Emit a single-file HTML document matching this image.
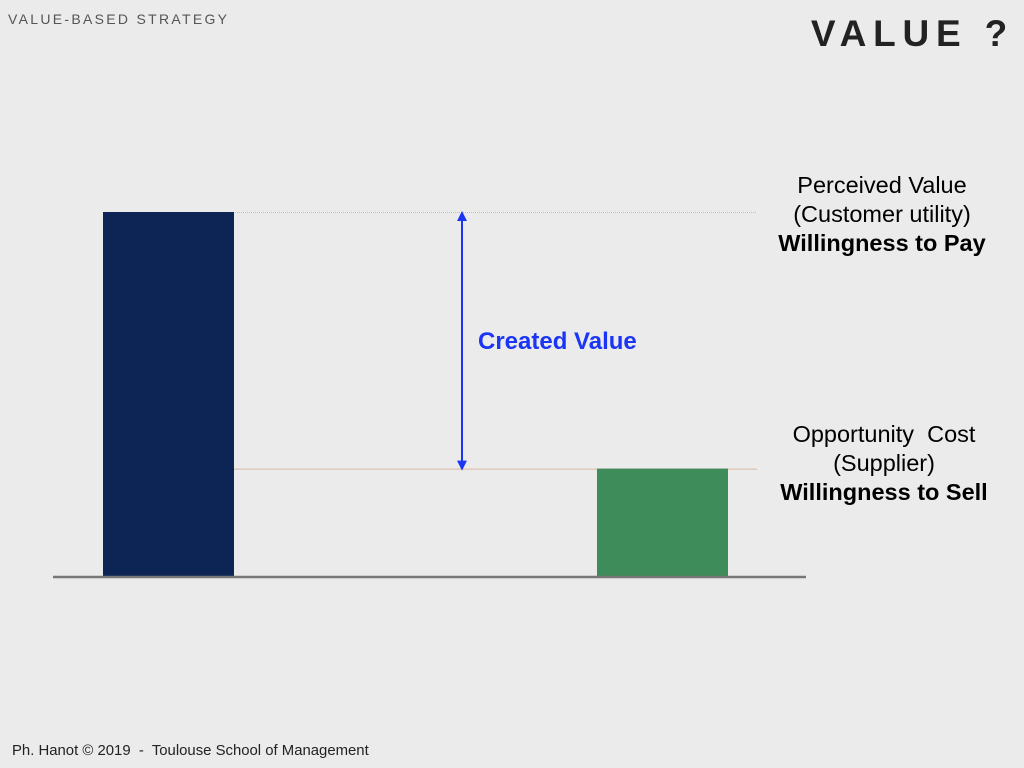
<!DOCTYPE html>
<html><head><meta charset="utf-8"><style>
html,body{margin:0;padding:0;background:#ebebeb;}
body{width:1024px;height:768px;position:relative;overflow:hidden;font-family:"Liberation Sans",sans-serif;}
.t{position:absolute;white-space:nowrap;}
</style></head><body>
<div class="t" style="left:8px;top:11px;font-size:14px;letter-spacing:2.3px;color:#555;">VALUE-BASED STRATEGY</div>
<div class="t" style="right:10px;top:13px;font-size:37px;font-weight:bold;letter-spacing:6.8px;color:#222;">VALUE ?</div>
<svg id="chart" width="1024" height="768" style="position:absolute;left:0;top:0">
<defs>
<marker id="ah" markerWidth="10" markerHeight="10" refX="5" refY="5" orient="auto-start-reverse" markerUnits="userSpaceOnUse"><path d="M0,0 L10,5 L0,10 z" fill="#1a35f5"/></marker>
</defs>
</svg>
<div class="t" style="left:760px;top:171px;width:244px;text-align:center;font-size:23.5px;line-height:29px;color:#000;">Perceived Value<br>(Customer utility)<br><b>Willingness to Pay</b></div>
<div class="t" style="left:762px;top:420px;width:244px;text-align:center;font-size:23.5px;line-height:29px;color:#000;">Opportunity&nbsp; Cost<br>(Supplier)<br><b>Willingness to Sell</b></div>
<div class="t" style="left:478px;top:328px;font-size:24px;font-weight:bold;color:#1a35f5;">Created Value</div>
<div class="t" style="left:12px;top:743px;font-size:14.9px;color:#222;">Ph. Hanot © 2019&nbsp; -&nbsp; Toulouse School of Management</div>
<script>
const categories = ["Willingness to Pay", "Willingness to Sell"];
const values = [10, 2.97];
const colors = ["#0c2554", "#3e8c5a"];
const svg = document.getElementById('chart');
const NS = 'http://www.w3.org/2000/svg';
const y = v => 577 - v * 36.5;
const barX = [103, 597];
function mk(tag, attrs){const e=document.createElementNS(NS,tag);for(const k in attrs)e.setAttribute(k,attrs[k]);svg.appendChild(e);return e;}
values.forEach((v,i)=>{
  const l = mk('line',{x1:233,x2:757,y1:y(v)+0.5,y2:y(v)+0.5,stroke:'#d8b8a0','stroke-width':1,'stroke-dasharray':i===0?'1,1':''});
  
  
});
values.forEach((v,i)=>{
  const r = mk('rect',{x:barX[i],y:y(v),width:131,height:y(0)-y(v),fill:colors[i]});
  
  
});
const base = mk('line',{x1:53,x2:806,y1:577,y2:577,stroke:'#777','stroke-width':2.5});


const arr = mk('line',{x1:462,x2:462,y1:y(values[0])+4,y2:y(values[1])-3,stroke:'#1a35f5','stroke-width':2,'marker-start':'url(#ah)','marker-end':'url(#ah)'});


</script>
</body></html>
